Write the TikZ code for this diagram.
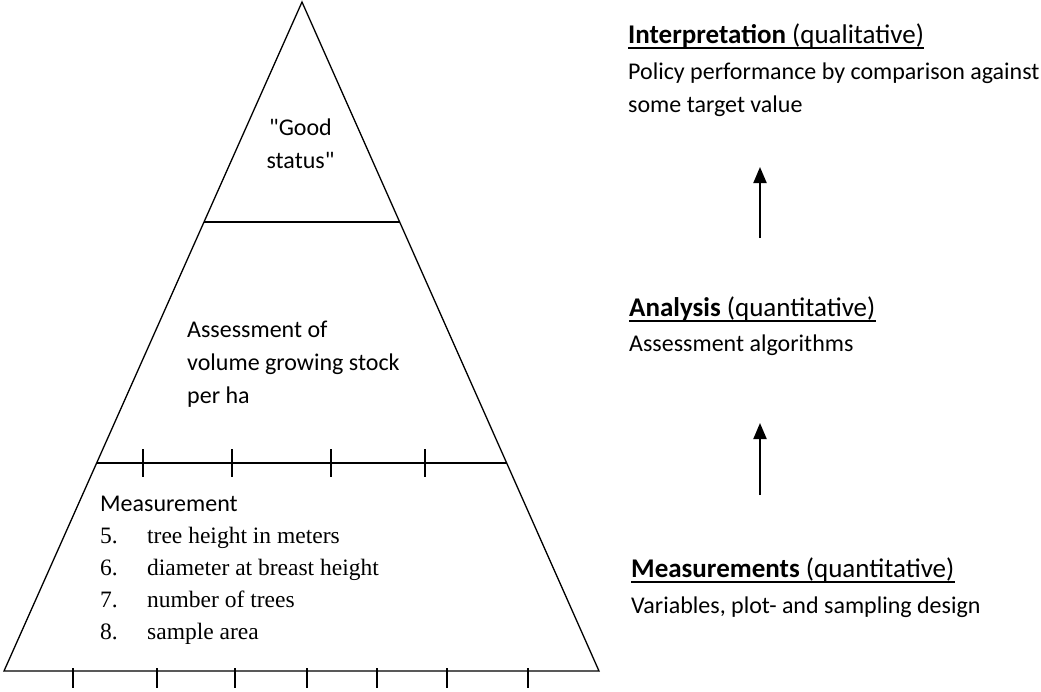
\documentclass[tikz,border=0pt]{standalone}
\usepackage{fontspec}
\setmainfont{Carlito}
\newfontfamily\quotefont{Carlito}
\newfontfamily\timesfont{Liberation Serif}
\usetikzlibrary{arrows.meta}
\usetikzlibrary{calc}
\usetikzlibrary{positioning}
\tikzset{x=1pt, y=-1pt, >={Triangle[length=16pt,width=13pt]}, font=\fontsize{24}{33}\selectfont}
\tikzstyle{tri} = [draw, line width=1.3pt, line join=miter]
\tikzstyle{tick} = [draw, line width=1.4pt]
\tikzstyle{txt} = [inner sep=0pt, anchor=base west, align=left]
\tikzstyle{ctxt} = [inner sep=0pt, anchor=base, align=center]
\tikzstyle{heading} = [txt, font=\fontsize{27}{33}\selectfont]
\tikzstyle{listtext} = [inner sep=0pt, anchor=base west, font=\fontsize{23.5}{33}\timesfont]
\tikzstyle{uline} = [draw, line width=2pt]
\tikzstyle{step arrow} = [draw, line width=2pt, ->]
\newcommand{\sq}{{\quotefont"}}

\begin{document}
\begin{tikzpicture}
    \useasboundingbox (0,0) rectangle (1041,691);
    % pyramid
    \coordinate (apex) at (302,2);
    \coordinate (bl) at (4,671);
    \coordinate (br) at (599,671);
    \draw [tri] (apex) -- (bl) -- (br) -- cycle;
    \draw [tri] ($(apex)!0.329!(bl)$) -- ($(apex)!0.329!(br)$);
    \draw [tri] ($(apex)!0.689!(bl)$) -- ($(apex)!0.689!(br)$);
    \foreach \x in {143,232,331,425}
        \draw [tick] (\x,449) -- (\x,477);
    \foreach \x in {73,157,235,307,377,447,528}
        \draw [tick] (\x,668) -- (\x,688);

    % base anchor of a multi-line node sits on its last line
    \node [ctxt] (good) at (300.5,168) {\sq Good\\status\sq};
    \node [txt] (assess) at (187,403) {Assessment of\\volume growing stock\\per ha};
    \node [txt] (meas) at (100,511) {Measurement};
    \foreach \n/\t [count=\i] in {5/tree height in meters, 6/diameter at breast height, 7/number of trees, 8/sample area} {
        \node [listtext] (num\n) at (100,511+32*\i) {\n.};
        \node [listtext] (item\n) at (147,511+32*\i) {\t};
    }

    % levels
    \node [heading] (interp) at (628,43) {\textbf{Interpretation} (qualitative)};
    \node [txt] (interpbody) at (628,112) {Policy performance by comparison against\\some target value};
    \node [heading] (anal) at (629,316) {\textbf{Analysis} (quantitative)};
    \node [txt] (analbody) at (629,351) {Assessment algorithms};
    \node [heading] (measur) at (631,577) {\textbf{Measurements} (quantitative)};
    \node [txt] (measurbody) at (631,613) {Variables, plot- and sampling design};

    \draw [uline] ([yshift=-5pt]interp.base west) -- ([yshift=-5pt]interp.base east);
    \draw [uline] ([yshift=-5pt]anal.base west) -- ([yshift=-5pt]anal.base east);
    \draw [uline] ([yshift=-5pt]measur.base west) -- ([yshift=-5pt]measur.base east);

    \coordinate (up1 start) at (760,238);
    \coordinate (up1 end) at (760,167);
    \coordinate (up2 start) at (760,495);
    \coordinate (up2 end) at (760,423);
    \draw [step arrow] (up1 start) -- (up1 end);
    \draw [step arrow] (up2 start) -- (up2 end);
\end{tikzpicture}
\end{document}
